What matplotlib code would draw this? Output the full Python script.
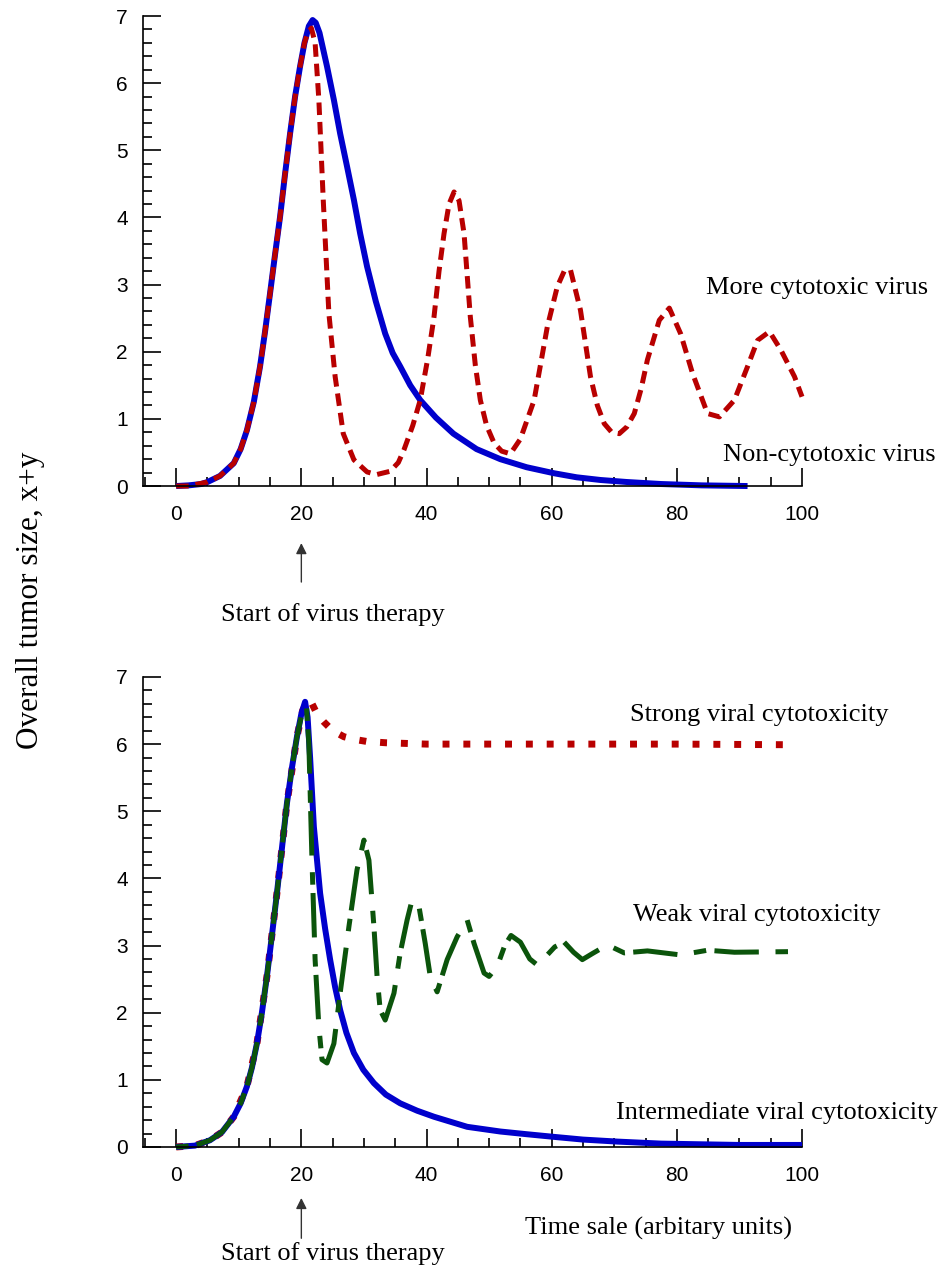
import matplotlib.pyplot as plt
from matplotlib.ticker import MultipleLocator

plt.rcParams['lines.scale_dashes'] = False

# ---- top panel: non-cytotoxic vs more cytotoxic virus ----
top_blue_x = [0, 2, 4, 5, 7, 9.2, 10.3, 11.3, 12.4, 13.4, 14.2, 15.0, 15.8, 16.6, 17.4,
              18.2, 19.0, 19.8, 20.5, 21.2, 21.8, 22.3, 22.9, 24.1, 25.2, 26.2, 27.3,
              28.4, 29.4, 30.5, 31.9, 33.4, 34.6, 35.8, 37.4, 39.0, 41.5, 44.3, 48.0,
              51.8, 56.0, 60.4, 64.0, 67.8, 72.0, 77.5, 84.0, 91.3]
top_blue_y = [0, 0.01, 0.03, 0.06, 0.15, 0.34, 0.55, 0.83, 1.25, 1.78, 2.3, 2.87, 3.45, 4.01, 4.65,
              5.25, 5.8, 6.25, 6.6, 6.85, 6.94, 6.9, 6.75, 6.25, 5.75, 5.25, 4.76,
              4.26, 3.76, 3.27, 2.75, 2.27, 1.98, 1.78, 1.5, 1.28, 1.02, 0.78, 0.55,
              0.40, 0.28, 0.19, 0.13, 0.09, 0.06, 0.03, 0.01, 0.0]

top_red_x = [0, 2, 5, 7, 9.2, 10.3, 11.3, 12.4, 13.4, 14.2, 15.0, 15.8, 16.6, 17.4, 18.2,
             19.0, 19.8, 20.5, 21.0, 21.6, 22.2, 22.8, 23.5, 24.4, 25.4, 26.7, 28.4, 30.5,
             32.0, 34.2, 35.5, 36.4, 37.8, 39.0, 40.2, 41.2, 42.0, 42.8, 43.6, 44.4,
             45.2, 46.0, 47.0, 47.8, 48.6, 49.6, 50.8, 52.0, 53.4, 55.0, 57.2, 58.3,
             59.3, 60.9, 62.0, 63.0, 64.6, 66.2, 67.3, 68.4, 69.6, 70.8, 72.0, 73.2,
             74.3, 75.3, 77.2, 78.8, 80.6, 82.5, 84.9, 86.8, 89.2, 91.3, 92.9, 94.8,
             96.6, 98.8, 100]
top_red_y = [0, 0.0, 0.06, 0.15, 0.34, 0.55, 0.83, 1.25, 1.78, 2.3, 2.87, 3.45, 4.01, 4.65, 5.25,
             5.8, 6.25, 6.6, 6.75, 6.82, 6.6, 5.75, 4.26, 2.57, 1.63, 0.78, 0.39, 0.21,
             0.17, 0.22, 0.35, 0.54, 0.9, 1.28, 1.9, 2.52, 3.2, 3.76, 4.2, 4.38,
             4.25, 3.76, 2.52, 1.8, 1.28, 0.9, 0.64, 0.52, 0.48, 0.7, 1.28, 1.85,
             2.37, 2.97, 3.2, 3.22, 2.62, 1.63, 1.2, 0.93, 0.8, 0.78, 0.88, 1.08,
             1.45, 1.88, 2.47, 2.65, 2.27, 1.68, 1.08, 1.03, 1.28, 1.78, 2.17, 2.30,
             2.03, 1.63, 1.33]

# ---- bottom panel: strong / weak / intermediate viral cytotoxicity ----
bot_blue_x = [0, 3, 5.4, 7.3, 9.2, 10.3, 11.3, 12.1, 12.9, 13.7, 14.5, 15.3, 16.1, 16.9,
              17.7, 18.5, 19.3, 20.0, 20.6, 21.0, 21.4, 22.0, 23.0, 23.8, 24.6, 25.4,
              26.2, 27.2, 28.4, 29.9, 31.6, 33.5, 35.8, 38.5, 41.2, 46.5, 51.8, 56.0,
              60.4, 65.0, 70.5, 77.5, 90.0, 100]
bot_blue_y = [0, 0.02, 0.1, 0.22, 0.45, 0.65, 0.90, 1.18, 1.54, 2.0, 2.54, 3.15, 3.78, 4.45,
              5.12, 5.65, 6.11, 6.45, 6.63, 6.4, 5.8, 4.77, 3.78, 3.25, 2.79, 2.38,
              2.04, 1.7, 1.40, 1.15, 0.95, 0.78, 0.65, 0.54, 0.45, 0.30, 0.23, 0.19,
              0.15, 0.11, 0.08, 0.05, 0.03, 0.03]

bot_green_x = [0, 3, 5.4, 7.3, 9.2, 10.3, 11.3, 12.1, 12.9, 13.7, 14.5, 15.3, 16.1, 16.9,
               17.7, 18.5, 19.3, 20.0, 20.8, 21.2, 21.7, 22.2, 22.8, 23.3, 24.1, 25.2,
               26.2, 27.6, 28.9, 30.0, 30.8, 31.6, 32.1, 32.6, 33.4, 34.8, 35.8, 36.9,
               37.7, 38.8, 39.8, 40.6, 41.7, 43.3, 44.9, 46.5, 47.6, 49.2, 50.0, 51.3,
               52.5, 53.5, 55.0, 56.5, 57.7, 58.8, 60.5, 62.0, 63.5, 64.9, 66.5, 68.9,
               71.6, 75.3, 80.6, 84.9, 89.2, 99]
bot_green_y = [0, 0.02, 0.1, 0.22, 0.45, 0.65, 0.90, 1.18, 1.54, 2.0, 2.54, 3.15, 3.78, 4.45,
               5.12, 5.65, 6.11, 6.42, 6.58, 6.01, 4.27, 2.79, 1.79, 1.30, 1.25, 1.54,
               2.29, 3.28, 4.13, 4.57, 4.27, 3.28, 2.54, 2.04, 1.89, 2.29, 2.89, 3.38,
               3.68, 3.58, 3.03, 2.54, 2.31, 2.79, 3.13, 3.38, 3.03, 2.59, 2.54, 2.69,
               3.0, 3.15, 3.05, 2.8, 2.71, 2.81, 2.98, 3.05, 2.9, 2.79, 2.88, 3.01,
               2.89, 2.92, 2.86, 2.93, 2.90, 2.91]

bot_red_x = [0, 3, 5.4, 7.3, 9.2, 11.3, 12.9, 14.5, 16.1, 17.7, 19.3, 20.2, 20.8,
             21.4, 22.5, 23.6, 25.0, 26.8, 28.5, 30.4, 33.5, 40, 60, 80, 99]
bot_red_y = [0, 0.02, 0.1, 0.22, 0.45, 0.90, 1.54, 2.54, 3.78, 5.12, 6.11, 6.5, 6.6,
             6.66, 6.45, 6.33, 6.2, 6.11, 6.07, 6.04, 6.02, 6.0, 6.0, 6.0, 5.99]

BLUE = '#0000cc'
RED = '#b80000'
GREEN = '#0b540b'
SERIF = 'Liberation Serif'
TXT = 19


def style_axes(ax):
    ax.set_xlim(-5.3, 100)
    ax.set_ylim(0, 7)
    for s in ('top', 'right'):
        ax.spines[s].set_visible(False)
    for s in ('left', 'bottom'):
        ax.spines[s].set_linewidth(1.2)
    ax.xaxis.set_major_locator(MultipleLocator(20))
    ax.xaxis.set_minor_locator(MultipleLocator(5))
    ax.yaxis.set_major_locator(MultipleLocator(1))
    ax.yaxis.set_minor_locator(MultipleLocator(0.2))
    ax.tick_params(which='both', direction='in', width=1.2, color='black')
    ax.tick_params(which='major', length=13)
    ax.tick_params(which='minor', length=6.5)
    ax.tick_params(axis='x', which='major', pad=14, labelsize=15)
    ax.tick_params(axis='y', which='major', pad=11, labelsize=15)
    for lab in ax.get_xticklabels() + ax.get_yticklabels():
        lab.set_fontfamily('Liberation Sans')


def therapy_arrow(ax, y_tail, y_head, y_text):
    ax.annotate('', xy=(20, y_head), xytext=(20, y_tail), xycoords='data',
                annotation_clip=False,
                arrowprops=dict(arrowstyle='-|>', color='#333333', lw=1.0,
                                mutation_scale=16, shrinkA=0, shrinkB=0))
    ax.text(25, y_text, 'Start of virus therapy', family=SERIF, fontsize=TXT,
            ha='center', va='center', clip_on=False)


fig = plt.figure(figsize=(9.39, 12.72), dpi=100)

ax1 = fig.add_axes([0.1523, 0.6179, 0.7018, 0.3695])
ax1.plot(top_blue_x, top_blue_y, color=BLUE, lw=4.3, solid_capstyle='butt',
         solid_joinstyle='round', clip_on=False)
ax1.plot(top_red_x, top_red_y, color=RED, lw=3.6, linestyle=(0, (9, 5)),
         dash_capstyle='butt', clip_on=False)
style_axes(ax1)
ax1.text(84.6, 2.95, 'More cytotoxic virus', family=SERIF, fontsize=TXT, va='center')
ax1.text(87.4, 0.46, 'Non-cytotoxic virus', family=SERIF, fontsize=TXT, va='center',
         clip_on=False)
therapy_arrow(ax1, -1.43, -0.85, -1.92)

ax2 = fig.add_axes([0.1523, 0.0983, 0.7018, 0.3695])
ax2.plot(bot_red_x, bot_red_y, color=RED, lw=5, linestyle=(0, (5, 10)),
         dash_capstyle='butt', clip_on=False)
ax2.plot(bot_blue_x, bot_blue_y, color=BLUE, lw=4.3, solid_capstyle='butt',
         solid_joinstyle='round', clip_on=False)
ax2.plot(bot_green_x, bot_green_y, color=GREEN, lw=3.6, linestyle=(0, (9, 6, 32, 12)),
         dash_capstyle='butt', clip_on=False)
style_axes(ax2)
ax2.text(72.5, 6.43, 'Strong viral cytotoxicity', family=SERIF, fontsize=TXT, va='center')
ax2.text(73.0, 3.46, 'Weak viral cytotoxicity', family=SERIF, fontsize=TXT, va='center')
ax2.text(70.2, 0.51, 'Intermediate viral cytotoxicity', family=SERIF, fontsize=TXT,
         va='center', clip_on=False)
therapy_arrow(ax2, -1.36, -0.76, -1.58)
ax2.text(55.7, -1.21, 'Time sale (arbitary units)', family=SERIF, fontsize=TXT,
         va='center', clip_on=False)

fig.text(0.032, 0.528, 'Overall tumor size, x+y', family=SERIF, fontsize=22.5,
         rotation=90, ha='center', va='center')

fig.savefig('out.png', dpi=100)
